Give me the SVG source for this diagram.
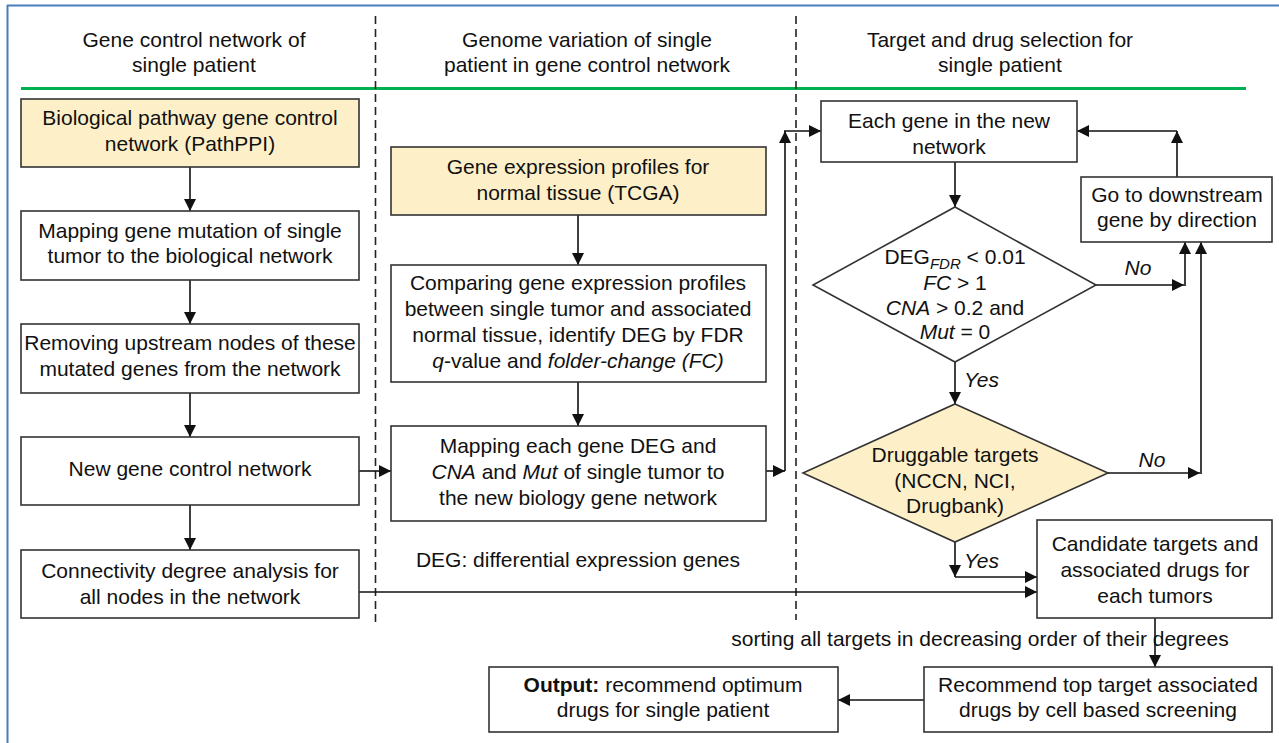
<svg xmlns="http://www.w3.org/2000/svg" width="1279" height="743" viewBox="0 0 1279 743">
<defs>
<style>
text{font-family:"Liberation Sans",Arial,sans-serif;font-size:21px;fill:#111;text-anchor:middle}
.box{fill:#fff;stroke:#333;stroke-width:1.6}
.yel{fill:#fdf0c9;stroke:#333;stroke-width:1.6}
.c{fill:none;stroke:#111;stroke-width:1.6;marker-end:url(#ah)}
.cn{fill:none;stroke:#111;stroke-width:1.6}
.dash{stroke:#222;stroke-width:1.6;stroke-dasharray:8 5}
.it{font-style:italic}
.st{text-anchor:start}
</style>
<marker id="ah" viewBox="0 0 12 12" refX="12" refY="6" markerWidth="12" markerHeight="12" markerUnits="userSpaceOnUse" orient="auto">
<path d="M0,0 L12,6 L0,12 z" fill="#111"/>
</marker>
</defs>
<rect x="0" y="0" width="1279" height="743" fill="#fff"/>
<g id="frame">
<line x1="7" y1="5.5" x2="1279" y2="5.5" stroke="#4a7ebb" stroke-width="2"/>
<line x1="7.5" y1="5" x2="7.5" y2="743" stroke="#4a7ebb" stroke-width="2"/>
</g>
<g id="headers">
<text x="194" y="47">Gene control network of</text>
<text x="194" y="72">single patient</text>
<text x="587" y="47">Genome variation of single</text>
<text x="587" y="72">patient in gene control network</text>
<text x="1000" y="47">Target and drug selection for</text>
<text x="1000" y="72">single patient</text>
<line x1="21" y1="88.5" x2="1246" y2="88.5" stroke="#00b050" stroke-width="3"/>
<line class="dash" x1="375.5" y1="16" x2="375.5" y2="625"/>
<line class="dash" x1="796" y1="16" x2="796" y2="620"/>
</g>
<g id="connectors">
<line class="c" x1="190" y1="167" x2="190" y2="211"/>
<line class="c" x1="190" y1="280" x2="190" y2="324"/>
<line class="c" x1="190" y1="393" x2="190" y2="437"/>
<line class="c" x1="190" y1="505" x2="190" y2="550"/>
<line class="c" x1="578" y1="215" x2="578" y2="265"/>
<line class="c" x1="578" y1="382" x2="578" y2="426"/>
<line class="c" x1="359" y1="471" x2="391" y2="471"/>
<line class="c" x1="766" y1="471" x2="785" y2="471"/>
<line class="c" x1="785" y1="471" x2="785" y2="131"/>
<line class="c" x1="784" y1="131" x2="821" y2="131"/>
<line class="c" x1="955" y1="162" x2="955" y2="207"/>
<line class="c" x1="955" y1="362" x2="955" y2="404"/>
<line class="c" x1="1096" y1="285" x2="1184" y2="285"/>
<line class="c" x1="1185" y1="286" x2="1185" y2="242"/>
<line class="c" x1="1108" y1="473" x2="1200" y2="473"/>
<line class="c" x1="1201" y1="474" x2="1201" y2="242"/>
<line class="c" x1="1177" y1="177" x2="1177" y2="131"/>
<line class="c" x1="1177" y1="131" x2="1077" y2="131"/>
<line class="c" x1="955" y1="542" x2="955" y2="577"/>
<line class="c" x1="955" y1="577" x2="1037" y2="577"/>
<line class="c" x1="359" y1="592" x2="1037" y2="592"/>
<line class="c" x1="1155" y1="618" x2="1155" y2="667"/>
<line class="c" x1="924" y1="700" x2="838" y2="700"/>
<text class="it" x="1138" y="275">No</text>
<text class="it" x="1152" y="467">No</text>
<text class="it st" x="964" y="387">Yes</text>
<text class="it st" x="964" y="568">Yes</text>
<text x="980" y="646">sorting all targets in decreasing order of their degrees</text>
</g>
<g id="n1">
<rect class="yel" x="21" y="99" width="338" height="68"/>
<text x="190" y="125">Biological pathway gene control</text>
<text x="190" y="151">network (PathPPI)</text>
</g>
<g id="n2">
<rect class="box" x="21" y="211" width="338" height="69"/>
<text x="190" y="238">Mapping gene mutation of single</text>
<text x="190" y="263">tumor to the biological network</text>
</g>
<g id="n3">
<rect class="box" x="21" y="324" width="338" height="69"/>
<text x="190" y="350">Removing upstream nodes of these</text>
<text x="190" y="376">mutated genes from the network</text>
</g>
<g id="n4">
<rect class="box" x="21" y="437" width="338" height="68"/>
<text x="190" y="476">New gene control network</text>
</g>
<g id="n5">
<rect class="box" x="21" y="550" width="338" height="68"/>
<text x="190" y="578">Connectivity degree analysis for</text>
<text x="190" y="604">all nodes in the network</text>
</g>
<g id="n6">
<rect class="yel" x="391" y="147" width="375" height="68"/>
<text x="578" y="174">Gene expression profiles for</text>
<text x="578" y="200">normal tissue (TCGA)</text>
</g>
<g id="n7">
<rect class="box" x="391" y="265" width="375" height="117"/>
<text x="578" y="290">Comparing gene expression profiles</text>
<text x="578" y="316">between single tumor and associated</text>
<text x="578" y="342">normal tissue, identify DEG by FDR</text>
<text x="578" y="368"><tspan class="it">q</tspan>-value and <tspan class="it">folder-change (FC)</tspan></text>
</g>
<g id="n8">
<rect class="box" x="391" y="426" width="375" height="95"/>
<text x="578" y="453">Mapping each gene DEG and</text>
<text x="578" y="479"><tspan class="it">CNA</tspan> and <tspan class="it">Mut</tspan> of single tumor to</text>
<text x="578" y="505">the new biology gene network</text>
</g>
<g id="note">
<text x="578" y="567">DEG: differential expression genes</text>
</g>
<g id="n9">
<rect class="box" x="821" y="101" width="256" height="61"/>
<text x="949" y="128">Each gene in the new</text>
<text x="949" y="154">network</text>
</g>
<g id="n10">
<rect class="box" x="1081" y="177" width="191" height="65"/>
<text x="1177" y="202">Go to downstream</text>
<text x="1177" y="227">gene by direction</text>
</g>
<g id="d1">
<polygon class="box" points="955,207 1096,285 955,362 813,285"/>
<text x="955" y="264">DEG<tspan class="it" font-size="15" dy="5">FDR</tspan><tspan dy="-5"> &lt; 0.01</tspan></text>
<text x="955" y="290"><tspan class="it">FC</tspan> &gt; 1</text>
<text x="955" y="315"><tspan class="it">CNA</tspan> &gt; 0.2 and</text>
<text x="955" y="339"><tspan class="it">Mut</tspan> = 0</text>
</g>
<g id="d2">
<polygon class="yel" points="955,404 1108,473 955,542 803,473"/>
<text x="955" y="462">Druggable targets</text>
<text x="955" y="488">(NCCN, NCI,</text>
<text x="955" y="513">Drugbank)</text>
</g>
<g id="n11">
<rect class="box" x="1037" y="520" width="235" height="98"/>
<text x="1155" y="551">Candidate targets and</text>
<text x="1155" y="577">associated drugs for</text>
<text x="1155" y="603">each tumors</text>
</g>
<g id="n12">
<rect class="box" x="924" y="667" width="348" height="65"/>
<text x="1098" y="692">Recommend top target associated</text>
<text x="1098" y="717">drugs by cell based screening</text>
</g>
<g id="n13">
<rect class="box" x="489" y="667" width="349" height="65"/>
<text x="663" y="692"><tspan font-weight="bold">Output:</tspan> recommend optimum</text>
<text x="663" y="717">drugs for single patient</text>
</g>
</svg>
